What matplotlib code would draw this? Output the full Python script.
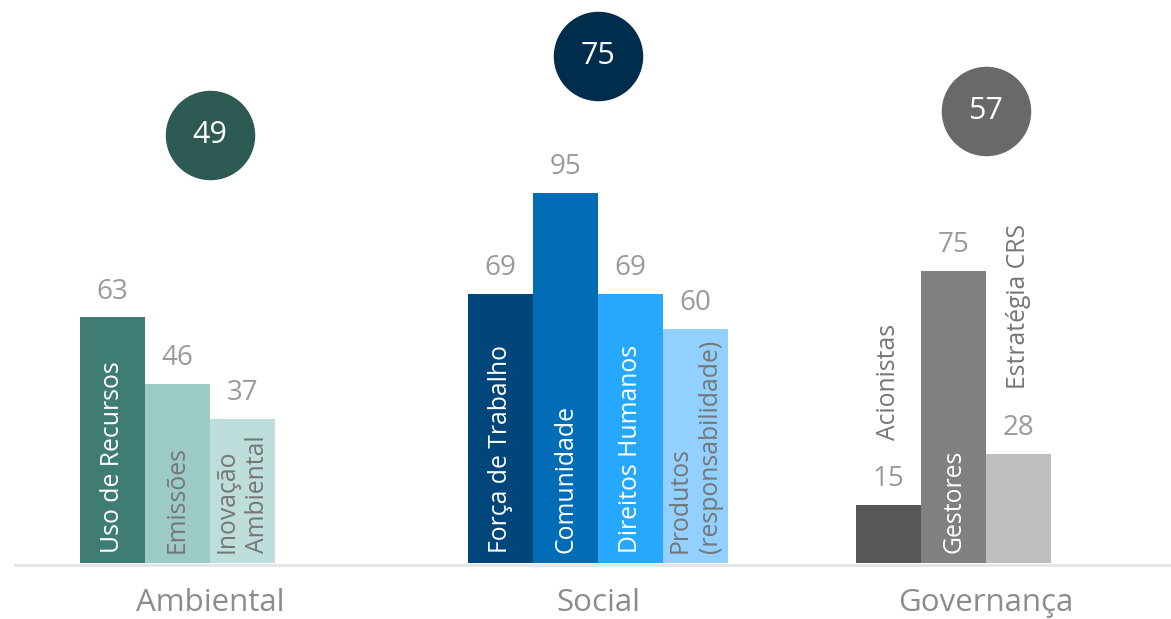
import matplotlib.pyplot as plt
import numpy as np

# pillar scores and their sub-scores
groups = ['Ambiental', 'Social', 'Governança']
group_scores = [49, 75, 57]
group_colors = ['#2D5A52', '#002D4C', '#69696C']

amb_labels = ['Uso de Recursos', 'Emissões', 'Inovação\nAmbiental']
amb_values = [63, 46, 37]
soc_labels = ['Força de Trabalho', 'Comunidade', 'Direitos Humanos', 'Produtos\n(responsabilidade)']
soc_values = [69, 95, 69, 60]
gov_labels = ['Acionistas', 'Gestores', 'Estratégia CRS']
gov_values = [15, 75, 28]

amb_colors = ['#3F7D74', '#9CCBC5', '#BDDEDA']
soc_colors = ['#00467A', '#006DB6', '#26A8FF', '#91D0FF']
gov_colors = ['#575757', '#808080', '#BEBEBE']

amb_text = ['white', '#767676', '#767676']
soc_text = ['white', 'white', 'white', '#767676']
gov_text = ['#767676', 'white', '#767676']
# labels that sit above the bar instead of inside it
gov_above = [True, False, True]

plt.rcParams['font.family'] = ['Open Sans', 'DejaVu Sans']

fig = plt.figure(figsize=(11.71, 6.19), dpi=100)
ax = fig.add_axes([0, 0, 1, 1])
ax.set_xlim(-80 / 65, (1171 - 80) / 65)
ax.set_ylim(-56 / 3.9, 563 / 3.9)
ax.axis('off')

step = 388 / 65
all_labels = [amb_labels, soc_labels, gov_labels]
all_values = [amb_values, soc_values, gov_values]
all_colors = [amb_colors, soc_colors, gov_colors]
all_text = [amb_text, soc_text, gov_text]

for g in range(len(groups)):
    x0 = g * step
    xs = x0 + np.arange(len(all_values[g])) + 0.5
    ax.bar(xs, all_values[g], width=1.0, color=all_colors[g], zorder=2)
    for i, (x, v) in enumerate(zip(xs, all_values[g])):
        ax.text(x, v + 3.0, str(v), ha='center', va='bottom', fontsize=20,
                color='#9a9a9a')
        lab = all_labels[g][i]
        above = g == 2 and gov_above[i]
        y = v + 16.5 if above else 2.6
        ax.text(x, y, lab, rotation=90, ha='center', va='bottom', fontsize=17.8,
                color=all_text[g][i], linespacing=1.3,
                multialignment='left')
    cx = x0 + 2.0
    ax.text(cx, -12.4, groups[g], ha='center', va='baseline', fontsize=22.5,
            color='#8c8c8c')
    cy = 71.5 + 0.78 * group_scores[g]
    ax.scatter([cx], [cy], s=4150, color=group_colors[g], zorder=3, linewidths=0)
    ax.text(cx, cy, str(group_scores[g]), ha='center', va='center', fontsize=22,
            color='white', zorder=4)

ax.plot([-65 / 65, (1171 - 80) / 65], [-0.4, -0.4], color='#e4e4e4', lw=2, zorder=1)

plt.savefig('out.png', dpi=100)
